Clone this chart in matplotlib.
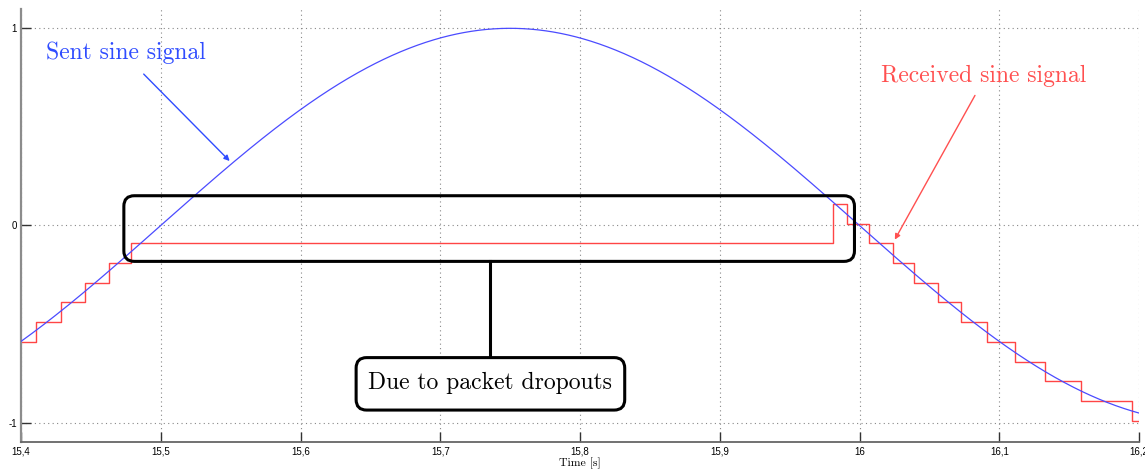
import matplotlib.pyplot as plt
import numpy as np
from matplotlib.patches import FancyBboxPatch

# sent signal parameters (peak at 15.75 s, period 1 s)
sent_amp = 1.0
sent_freq = 1.0
sent_peak_t = 15.75

# received (zero-order held) signal: switch times and held levels
recv_t = [15.400, 15.4107, 15.4286, 15.4455, 15.463, 15.479, 15.981, 15.991,
          16.007, 16.024, 16.039, 16.056, 16.0726, 16.0914, 16.1112, 16.1329,
          16.1586, 16.195, 16.2]
recv_v = [-0.59, -0.49, -0.39, -0.29, -0.19, -0.09, 0.11, 0.01,
          -0.09, -0.19, -0.29, -0.39, -0.49, -0.59, -0.69, -0.79,
          -0.89, -0.99, -0.99]

x_ticks = [15.4, 15.5, 15.6, 15.7, 15.8, 15.9, 16.0, 16.1, 16.2]
x_labels = ['15,4', '15,5', '15,6', '15,7', '15,8', '15,9', '16', '16,1', '16,2']
y_ticks = [-1, 0, 1]
y_labels = ['-1', '0', '1']

fig = plt.figure(figsize=(11.45, 4.7), dpi=100)
ax = fig.add_axes([21 / 1145, (470 - 442.4) / 470, 1118 / 1145, 433.8 / 470])

t = np.linspace(15.4, 16.2, 1200)
sent = sent_amp * np.cos(2 * np.pi * sent_freq * (t - sent_peak_t))
ax.plot(t, sent, color='#4b4bff', lw=0.9, zorder=3)
ax.step(recv_t, recv_v, where='post', color='#ff4545', lw=1.0, zorder=2)

ax.set_xlim(15.4, 16.2)
ax.set_ylim(-1.1, 1.1)
ax.set_xticks(x_ticks)
ax.set_xticklabels(x_labels, family='Liberation Sans', fontsize=7)
ax.set_yticks(y_ticks)
ax.set_yticklabels(y_labels, family='Liberation Sans', fontsize=7)
ax.tick_params(direction='in', length=7.5, width=1, color='#333333', pad=3)
ax.grid(linestyle=(0, (1, 3)), color='#888888', lw=0.8)

for s in ['top', 'right']:
    ax.spines[s].set_visible(False)
ax.spines['left'].set_color('#8c8c8c')
ax.spines['left'].set_linewidth(1.6)
ax.spines['bottom'].set_color('#666666')
ax.spines['bottom'].set_linewidth(1.3)

ax.set_xlabel('Time [s]', family='cmr10', fontsize=8.5, labelpad=1)

serif = 'cmr10'
ax.text(15.4176, 0.875, 'Sent sine signal', color='#2f4cff', family=serif,
        fontsize=17, ha='left', va='center')
ax.annotate('', xy=(15.5507, 0.317), xytext=(15.4864, 0.778),
            arrowprops=dict(arrowstyle='-|>', color='#2f4cff', lw=1,
                            mutation_scale=8))
ax.text(16.0157, 0.76, 'Received sine signal', color='#ff5050', family=serif,
        fontsize=17, ha='left', va='center')
ax.annotate('', xy=(16.0243, -0.084), xytext=(16.0836, 0.672),
            arrowprops=dict(arrowstyle='-|>', color='#ff5050', lw=1,
                            mutation_scale=8))

# big rounded box around the dropout
asp = 1400 / 197.2
big = FancyBboxPatch((15.4736, -0.182), 15.9964 - 15.4736, 0.151 + 0.182,
                     boxstyle='round,pad=0,rounding_size=0.0075',
                     mutation_aspect=asp, fc='none', ec='black', lw=2.2,
                     zorder=5)
ax.add_patch(big)
ax.plot([15.7357, 15.7357], [-0.182, -0.670], color='black', lw=2.2, zorder=5)
small = FancyBboxPatch((15.6398, -0.936), 15.832 - 15.6398, 0.936 - 0.670,
                       boxstyle='round,pad=0,rounding_size=0.0075',
                       mutation_aspect=asp, fc='white', ec='black', lw=2.2,
                       zorder=5)
ax.add_patch(small)
ax.text(15.7357, -0.80, 'Due to packet dropouts', family=serif, fontsize=17,
        ha='center', va='center', zorder=6)

fig.savefig('out.png', dpi=100)
